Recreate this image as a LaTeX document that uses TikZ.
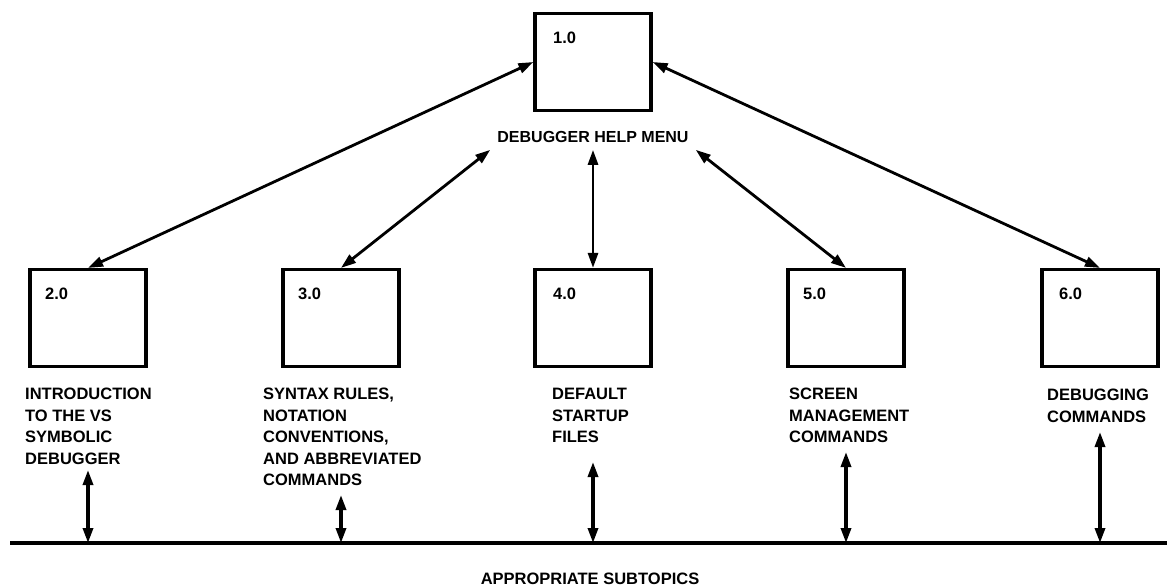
\documentclass[tikz,border=0pt]{standalone}
\usepackage{fontspec}
\setmainfont{Liberation Sans}
\usetikzlibrary{arrows.meta}

\tikzset{
  panel/.style={draw, line width=3.2pt, minimum width=116pt, minimum height=97pt, inner sep=0pt},
  num/.style={anchor=north west, inner sep=0pt, font=\fontsize{16.5}{21.5}\selectfont\bfseries},
  caption/.style={anchor=north west, align=left, inner sep=0pt, font=\fontsize{16.5}{21.5}\selectfont\bfseries},
  link/.style={{Triangle[length=15pt,width=10pt]}-{Triangle[length=15pt,width=10pt]}, line width=2.8pt},
}

\begin{document}
\begin{tikzpicture}[x=1pt, y=-1pt, font=\fontsize{16.5}{21.5}\selectfont]
  \useasboundingbox (0,0) rectangle (1167,587);
  % help menu at the top
  \node[panel] (b1) at (593,62) {};
  \node[num] (n1) at (553,32) {1.0};
  \node[inner sep=7pt, font=\fontsize{16}{20}\selectfont\bfseries] (menu) at (593,137) {DEBUGGER HELP MENU};
  % the five topic boxes
  \node[panel] (b2) at (88,318) {};
  \node[panel] (b3) at (341,318) {};
  \node[panel] (b4) at (593,318) {};
  \node[panel] (b5) at (846,318) {};
  \node[panel] (b6) at (1100,318) {};
  \node[num] (n2) at (45,288) {2.0};
  \node[num] (n3) at (298,288) {3.0};
  \node[num] (n4) at (553,288) {4.0};
  \node[num] (n5) at (803,288) {5.0};
  \node[num] (n6) at (1059,288) {6.0};
  \node[caption] (l2) at (25,388) {INTRODUCTION\\TO THE VS\\SYMBOLIC\\DEBUGGER};
  \node[caption] (l3) at (263,388) {SYNTAX RULES,\\NOTATION\\CONVENTIONS,\\AND ABBREVIATED\\COMMANDS};
  \node[caption] (l4) at (552,388) {DEFAULT\\STARTUP\\FILES};
  \node[caption] (l5) at (789,388) {SCREEN\\MANAGEMENT\\COMMANDS};
  \node[caption] (l6) at (1047,389) {DEBUGGING\\COMMANDS};
  % links between menu and topics
  \draw[link] (b2.north) -- (b1.west);
  \draw[link] (b3.north) -- (menu.south west);
  \draw[link] (b4.north) -- (menu.south);
  \draw[link] (b5.north) -- (menu.south east);
  \draw[link] (b1.east) -- (b6.north);
  % subtopic bar
  \coordinate (barL) at (10,543);
  \coordinate (barR) at (1167,543);
  \draw[line width=3.2pt] (barL) -- (barR);
  \coordinate (t2) at (88,470);
  \coordinate (t3) at (341,495);
  \coordinate (t4) at (593,462);
  \coordinate (t5) at (846,452);
  \coordinate (t6) at (1100,432);
  \draw[link, line width=3.3pt] (t2) -- (t2 |- barL);
  \draw[link, line width=3.3pt] (t3) -- (t3 |- barL);
  \draw[link, line width=3.3pt] (t4) -- (t4 |- barL);
  \draw[link, line width=3.3pt] (t5) -- (t5 |- barL);
  \draw[link, line width=3.3pt] (t6) -- (t6 |- barL);
  \node[font=\fontsize{16.5}{20}\selectfont\bfseries] (sub) at (590,579) {APPROPRIATE SUBTOPICS};
\end{tikzpicture}
\end{document}
